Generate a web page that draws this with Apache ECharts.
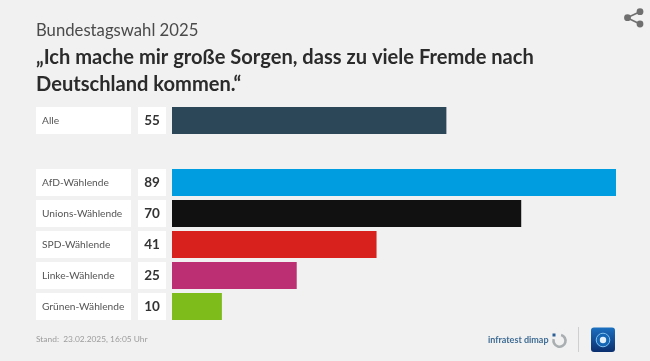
<!DOCTYPE html>
<html><head><meta charset="utf-8">
<style>html,body{margin:0;padding:0;background:#f1f1f1}#c{width:650px;height:361px}</style>
<script src="https://cdn.jsdelivr.net/npm/echarts@6/dist/echarts.min.js"></script>
</head><body><div id="c"></div>
<script>
const supertitle = 'Bundestagswahl 2025';
const headline = '„Ich mache mir große Sorgen, dass zu viele Fremde nach\nDeutschland kommen.“';
const footnote = 'Stand:  23.02.2025, 16:05 Uhr';
const categories = ['Alle', '', 'AfD-Wählende', 'Unions-Wählende', 'SPD-Wählende', 'Linke-Wählende', 'Grünen-Wählende'];
const values = [55, null, 89, 70, 41, 25, 10];
const colors = ['#2c4757', '#f1f1f1', '#009ee0', '#111111', '#d8201c', '#bc2f72', '#7ebc1c'];
const font = 'Lato';
const chart = echarts.init(document.getElementById('c'), null, {renderer: 'canvas'});
chart.setOption({
  backgroundColor: '#f1f1f1',
  animation: false,
  title: [
    {text: supertitle, left: 36, top: 21, padding: 0, textStyle: {fontFamily: font, fontSize: 16.7, fontWeight: 'normal', color: '#4a4a4a', lineHeight: 19}},
    {text: headline, left: 36, top: 44, padding: 0, textStyle: {fontFamily: font, fontSize: 20.1, fontWeight: 'bold', color: '#2b2b2b', lineHeight: 27}},
    {text: footnote, left: 36, top: 334, padding: 0, textStyle: {fontFamily: font, fontSize: 8.4, fontWeight: 'normal', color: '#9c9c9c', lineHeight: 11}},
    {text: 'infratest dimap', left: 488, top: 334, padding: 0, textStyle: {fontFamily: font, fontSize: 9, fontWeight: 'bold', color: '#3f6c94', lineHeight: 12}}
  ],
  grid: {left: 172, top: 105, width: 449, height: 217, containLabel: false},
  xAxis: {type: 'value', min: 0, max: 90, show: false},
  yAxis: [
    {
      type: 'category', inverse: true, data: categories, position: 'left', offset: 41,
      axisLine: {show: false}, axisTick: {show: false},
      axisLabel: {
        margin: 0, interval: 0,
        formatter: v => v ? '{box|' + v + '}' : '',
        rich: {box: {width: 89, height: 27, padding: [0, 0, 0, 6], align: 'left', backgroundColor: '#ffffff',
          fontFamily: font, fontSize: 10.2, color: '#555555'}}
      }
    },
    {
      type: 'category', inverse: true, data: values.map(v => v === null ? '' : String(v)), position: 'left', offset: 6,
      axisLine: {show: false}, axisTick: {show: false},
      axisLabel: {
        margin: 0, interval: 0,
        formatter: v => v ? '{box|' + v + '}' : '',
        rich: {box: {width: 28, height: 27, align: 'center', backgroundColor: '#ffffff',
          fontFamily: font, fontSize: 13.5, fontWeight: 'bold', color: '#333333'}}
      }
    }
  ],
  series: [{
    type: 'bar', barWidth: 27, silent: true,
    data: values.map((v, i) => ({value: v, itemStyle: {color: colors[i]}}))
  }],
  graphic: [
    {type: 'line', shape: {x1: 640, y1: 11.7, x2: 627, y2: 17.7}, style: {stroke: '#6f6f6f', lineWidth: 1.6}},
    {type: 'line', shape: {x1: 640, y1: 24, x2: 627, y2: 17.7}, style: {stroke: '#6f6f6f', lineWidth: 1.6}},
    {type: 'circle', shape: {cx: 640, cy: 11.7, r: 3.4}, style: {fill: '#6f6f6f'}},
    {type: 'circle', shape: {cx: 627.5, cy: 17.7, r: 3.4}, style: {fill: '#6f6f6f'}},
    {type: 'circle', shape: {cx: 640, cy: 24, r: 3.4}, style: {fill: '#6f6f6f'}},
    {type: 'arc', shape: {cx: 559.5, cy: 340.7, r: 6, startAngle: -1.3, endAngle: 3.4}, style: {stroke: '#a9aeb0', fill: 'none', lineWidth: 2.6}},
    {type: 'rect', shape: {x: 552.5, y: 333.5, width: 3, height: 3}, style: {fill: '#2b5f95'}},
    {type: 'line', shape: {x1: 578.5, y1: 327, x2: 578.5, y2: 352}, style: {stroke: '#cfcfcf', lineWidth: 1}},
    {type: 'rect', shape: {x: 591, y: 327.5, width: 24, height: 24.5, r: 3},
      style: {fill: new echarts.graphic.LinearGradient(0, 0, 0, 1, [{offset: 0, color: '#1b6fc0'}, {offset: 1, color: '#0b2f6e'}])}},
    {type: 'circle', shape: {cx: 603, cy: 340, r: 6.8}, style: {stroke: '#7fc0ee', fill: '#1566b4', lineWidth: 1}},
    {type: 'circle', shape: {cx: 603, cy: 340, r: 3.2}, style: {fill: '#e3f0fa'}}
  ]
});
</script></body></html>
